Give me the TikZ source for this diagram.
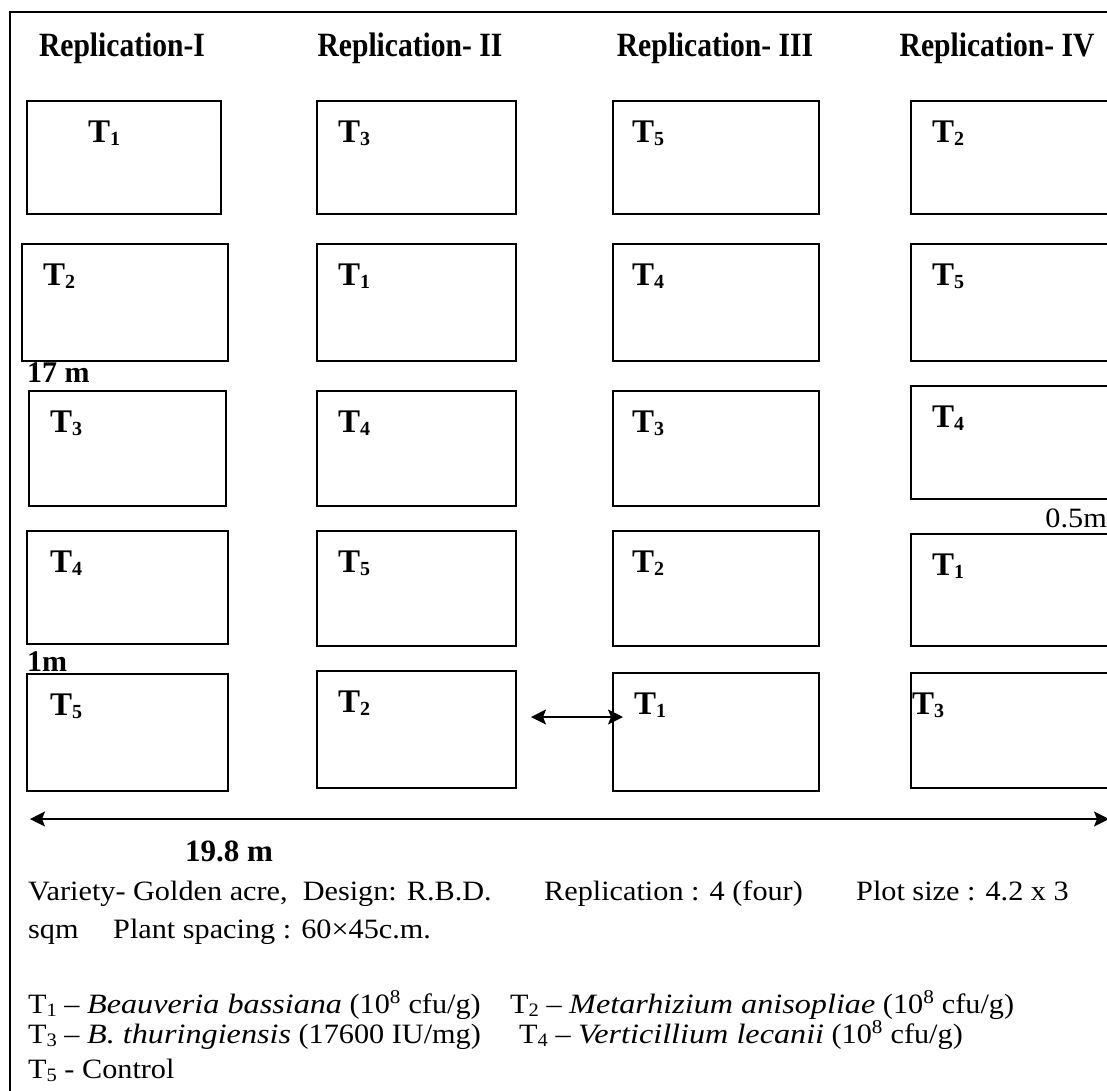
\documentclass[tikz,border=0pt]{standalone}
\usepackage{fontspec}
\setmainfont{Liberation Serif}
\newfontfamily\widefont[FakeStretch=1.08]{Liberation Serif}
\newfontfamily\legit[FakeStretch=1.15]{Liberation Serif}
\newfontfamily\narrowfont[FakeStretch=0.87]{Liberation Serif}
\usetikzlibrary{arrows.meta}
\newcommand\sbx[1]{\raisebox{-3pt}{\fontsize{20}{20}\selectfont #1}}
\newcommand\sbl[1]{\raisebox{-3pt}{\fontsize{19}{19}\selectfont #1}}
\newcommand\spname[1]{{\legit\itshape #1}}
\begin{document}
\begin{tikzpicture}[x=1pt,y=-1pt,
  plot/.style={draw, line width=1.8pt, inner sep=0pt, anchor=north west},
  tlab/.style={anchor=base west, inner sep=0pt, font=\fontsize{33}{36}\selectfont\bfseries},
  dlab/.style={anchor=base west, inner sep=0pt, font=\fontsize{30}{34}\selectfont\bfseries},
  head/.style={anchor=base, inner sep=0pt, font=\narrowfont\fontsize{34}{38}\selectfont\bfseries},
  body/.style={anchor=base west, inner sep=0pt, font=\widefont\fontsize{28}{32}\selectfont},
  dim/.style={line width=1.4pt, {Stealth[length=15pt,width=15pt,inset=3pt]}-{Stealth[length=15pt,width=15pt,inset=3pt]}}]
\useasboundingbox (0,0) rectangle (1107,1090);
% frame
\draw[line width=1.8pt] (10,1095) -- (10,12) -- (1115,12);
% headers
\node[head] (h1) at (122,56) {Replication-I};
\node[head] (h2) at (410,56) {Replication- II};
\node[head] (h3) at (715,56) {Replication- III};
\node[head] (h4) at (997,56) {Replication- IV};
% column 1
\node[plot, minimum width=194pt, minimum height=113pt] (p11) at (26,100) {};
\node[plot, minimum width=206pt, minimum height=117pt] (p12) at (21,243) {};
\node[plot, minimum width=197pt, minimum height=115pt] (p13) at (28,390) {};
\node[plot, minimum width=201pt, minimum height=113pt] (p14) at (26,530) {};
\node[plot, minimum width=201pt, minimum height=117pt] (p15) at (26,673) {};
% column 2
\node[plot, minimum width=199pt, minimum height=113pt] (p21) at (316,100) {};
\node[plot, minimum width=199pt, minimum height=117pt] (p22) at (316,243) {};
\node[plot, minimum width=199pt, minimum height=115pt] (p23) at (316,390) {};
\node[plot, minimum width=199pt, minimum height=115pt] (p24) at (316,530) {};
\node[plot, minimum width=199pt, minimum height=117pt] (p25) at (316,670) {};
% column 3
\node[plot, minimum width=206pt, minimum height=113pt] (p31) at (612,100) {};
\node[plot, minimum width=206pt, minimum height=117pt] (p32) at (612,243) {};
\node[plot, minimum width=206pt, minimum height=115pt] (p33) at (612,390) {};
\node[plot, minimum width=206pt, minimum height=115pt] (p34) at (612,530) {};
\node[plot, minimum width=206pt, minimum height=118pt] (p35) at (612,672) {};
% column 4
\node[plot, minimum width=230pt, minimum height=113pt] (p41) at (910,100) {};
\node[plot, minimum width=230pt, minimum height=117pt] (p42) at (910,243) {};
\node[plot, minimum width=230pt, minimum height=113pt] (p43) at (910,385) {};
\node[plot, minimum width=230pt, minimum height=112pt] (p44) at (910,533) {};
\node[plot, minimum width=230pt, minimum height=115pt] (p45) at (910,672) {};
% plot labels (baseline = box top + 42)
\node[tlab] (l11) at (88,142) {T\sbx{1}};
\node[tlab] (l12) at (43,285) {T\sbx{2}};
\node[tlab] (l13) at (50,432) {T\sbx{3}};
\node[tlab] (l14) at (50,572) {T\sbx{4}};
\node[tlab] (l15) at (50,715) {T\sbx{5}};
\node[tlab] (l21) at (338,142) {T\sbx{3}};
\node[tlab] (l22) at (338,285) {T\sbx{1}};
\node[tlab] (l23) at (338,432) {T\sbx{4}};
\node[tlab] (l24) at (338,572) {T\sbx{5}};
\node[tlab] (l25) at (338,712) {T\sbx{2}};
\node[tlab] (l31) at (632,142) {T\sbx{5}};
\node[tlab] (l32) at (632,285) {T\sbx{4}};
\node[tlab] (l33) at (632,432) {T\sbx{3}};
\node[tlab] (l34) at (632,572) {T\sbx{2}};
\node[tlab] (l35) at (634,714) {T\sbx{1}};
\node[tlab] (l41) at (932,142) {T\sbx{2}};
\node[tlab] (l42) at (932,285) {T\sbx{5}};
\node[tlab] (l43) at (932,427) {T\sbx{4}};
\node[tlab] (l44) at (932,575) {T\sbx{1}};
\node[tlab] (l45) at (912,714) {T\sbx{3}};
% dimension labels
\node[dlab] (d17) at (27,382) {17 m};
\node[dlab] (d1) at (27,671) {1m};
\node[anchor=base east, inner sep=0pt, font=\widefont\fontsize{28}{32}\selectfont] (d05) at (1107,527) {0.5m};
% arrows
\coordinate (sa) at (531,717);
\coordinate (sb) at (623,717);
\draw[dim] (sa) -- (sb);
\coordinate (ba) at (30,819);
\coordinate (bb) at (1109,819);
\draw[dim] (ba) -- (bb);
\node[anchor=base, inner sep=0pt, font=\fontsize{31}{34}\selectfont\bfseries] (d198) at (229,861) {19.8 m};
% description
\node[body] (v1) at (28,900) {Variety- Golden acre,\ \ Design: R.B.D.};
\node[body] (v2) at (544,900) {Replication : 4 (four)};
\node[body] (v3) at (856,900) {Plot size : 4.2 x 3};
\node[body] (s1) at (28,938) {sqm};
\node[body] (s2) at (113,938) {Plant spacing : 60×45c.m.};
\node[body] (t1) at (28,1013) {T\sbl{1} – \spname{Beauveria bassiana} (10\textsuperscript{8} cfu/g)};
\node[body] (t2) at (510,1013) {T\sbl{2} – \spname{Metarhizium anisopliae} (10\textsuperscript{8} cfu/g)};
\node[body] (t3) at (28,1043) {T\sbl{3} – \spname{B. thuringiensis} (17600 IU/mg)};
\node[body] (t4) at (519,1043) {T\sbl{4} – \spname{Verticillium lecanii} (10\textsuperscript{8} cfu/g)};
\node[body] (t5) at (28,1078) {T\sbl{5} - Control};
\end{tikzpicture}
\end{document}
